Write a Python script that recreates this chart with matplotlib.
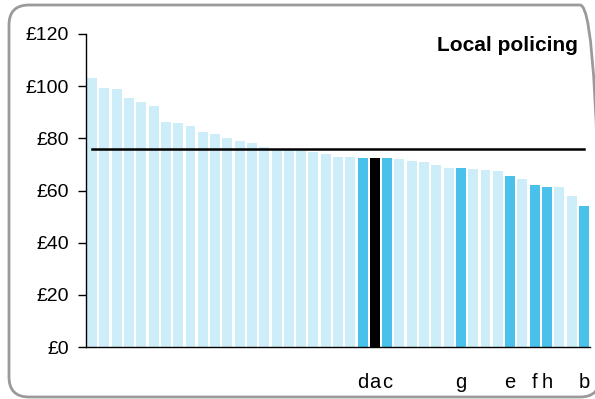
import matplotlib
matplotlib.use("Agg")
import matplotlib.pyplot as plt
from matplotlib.patches import FancyBboxPatch
from matplotlib.transforms import IdentityTransform

plt.rcParams['font.family'] = ['Liberation Sans', 'DejaVu Sans']

values = [103.1, 99.3, 98.9, 95.5, 94.0, 92.4, 86.3, 85.9, 84.7, 82.4, 81.7,
          80.1, 79.0, 78.2, 76.7, 75.8, 75.7, 75.5, 74.8, 74.0, 72.9, 72.9,
          72.5, 72.5, 72.5, 72.1, 71.3, 70.9, 69.8, 68.6, 68.6, 68.3, 67.9,
          67.5, 65.6, 64.4, 62.1, 61.3, 61.3, 57.9, 54.1]
labels = [""] * 22 + ["d", "a", "c"] + [""] * 5 + ["g"] + [""] * 3 + ["e", "", "f", "h", "", "", "b"]
average = 75.9
title = "Local policing"
yticks = [0, 20, 40, 60, 80, 100, 120]
ytick_labels = ["£0", "£20", "£40", "£60", "£80", "£100", "£120"]

light = "#cdedf9"
dark = "#4ac1eb"
colors = ["#000000" if l == "a" else (dark if l else light) for l in labels]

fig = plt.figure(figsize=(5.95, 3.99), dpi=100)
ax = fig.add_axes([86/595, 1-347/399, (590-86)/595, (347-34)/399])

x = list(range(len(values)))
ax.bar(x, values, width=0.81, color=colors, zorder=2)
ax.plot([0, len(values) - 1], [average, average], color="black", lw=1.8, zorder=3)

ax.set_xlim(-0.5, len(values) - 0.5)
ax.set_ylim(0, 120)
ax.set_yticks(yticks)
ax.set_yticklabels(ytick_labels, fontsize=14)
ax.set_xticks(x)
ax.set_xticklabels(labels, fontsize=14.5)
ax.tick_params(axis='x', length=0, pad=19)
ax.tick_params(axis='y', length=6, width=1, pad=6, direction='out')
for s in ['top', 'right']:
    ax.spines[s].set_visible(False)
for s in ['left', 'bottom']:
    ax.spines[s].set_linewidth(1)

ax.text(0.975, 0.995, title, transform=ax.transAxes, ha='right', va='top',
        fontsize=15, fontweight='bold')

box = FancyBboxPatch((9, 2), 600 - 9, 394 - 2,
                     boxstyle="round,pad=0,rounding_size=20",
                     transform=IdentityTransform(), facecolor='none',
                     edgecolor='#9a9a9a', lw=2, clip_on=False)
fig.patches.append(box)

fig.savefig("out.png", dpi=100)
